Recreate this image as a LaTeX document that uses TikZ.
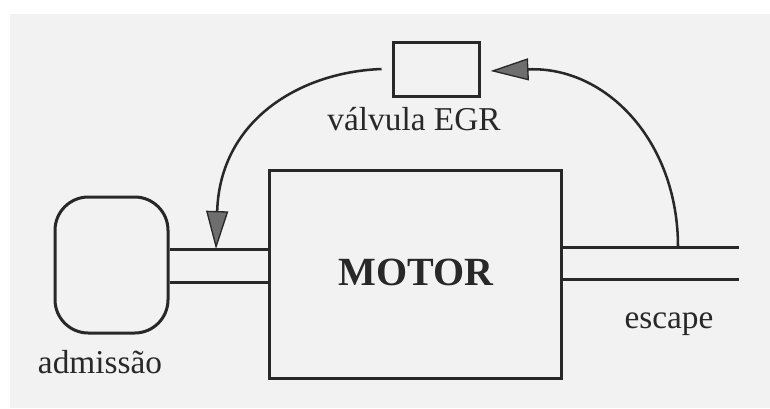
\documentclass[tikz,border=0pt]{standalone}
\usepackage{fontspec}
\setmainfont{Liberation Serif}
\usetikzlibrary{arrows.meta}

\tikzset{every picture/.style={line width=2.25pt}}
\tikzset{
  box/.style={draw={rgb, 255:red, 40; green, 40; blue, 40}, inner sep=0pt},
  pipe/.style={draw={rgb, 255:red, 40; green, 40; blue, 40}},
  egr/.style={draw={rgb, 255:red, 40; green, 40; blue, 40}, line width=1.9pt,
    -{Triangle[length=28.5pt, width=16.5pt, fill={rgb, 255:red, 110; green, 110; blue, 110}, line width=1pt]}},
  lbl/.style={inner sep=0.75pt, font=\fontsize{25}{30}\selectfont, color={rgb, 255:red, 40; green, 40; blue, 40}}
}

\begin{document}
\begin{tikzpicture}[x=0.75pt,y=0.75pt,yscale=-1,xscale=1]
\useasboundingbox (0,0) rectangle (770,408);

%Shape: Rectangle [paper]
\fill [color={rgb, 255:red, 242; green, 242; blue, 242 }] (10,14) rectangle (770,408);

%Shape: Rectangle [valve]
\node [box, minimum width=64.5pt, minimum height=40.5pt] (valve) at (436,69) {};
%Shape: Rectangle [motor]
\node [box, minimum width=219pt, minimum height=156pt] (motor) at (415,274) {};
%Shape: Rounded Rect [admission]
\node [box, rounded corners=25pt, minimum width=84.75pt, minimum height=102pt] (adm) at (111.5,265) {};

%Straight Lines [intake pipe]
\coordinate (inT) at (0,249);
\coordinate (inB) at (0,282);
\draw [pipe] (adm.east |- inT) -- (motor.west |- inT);
\draw [pipe] (adm.east |- inB) -- (motor.west |- inB);
%Straight Lines [exhaust pipe]
\coordinate (exT) at (739,247);
\coordinate (exB) at (739,279);
\draw [pipe] (motor.east |- exT) -- (exT);
\draw [pipe] (motor.east |- exB) -- (exB);

%Curve Lines [exhaust to valve]
\coordinate (tap) at (678,247);
\draw [egr] (tap) .. controls (678,140) and (605,66) .. ([xshift=7.5pt,yshift=1.5pt]valve.east);
%Curve Lines [valve to intake]
\coordinate (inlet) at (216,249);
\draw [egr] ([xshift=-7.5pt]valve.west) .. controls (300,72) and (220,120) .. (inlet);

% Text Node
\node [lbl, anchor=base] (valvelbl) at (414,130) {válvula EGR};
% Text Node
\node [lbl, anchor=base, font=\bfseries\fontsize{30}{36}\selectfont] (motorlbl) at (416,285) {MOTOR};
% Text Node
\node [lbl, anchor=base] (admlbl) at (100,373) {admissão};
% Text Node
\node [lbl, anchor=base] (esclbl) at (669,328) {escape};

\end{tikzpicture}
\end{document}
